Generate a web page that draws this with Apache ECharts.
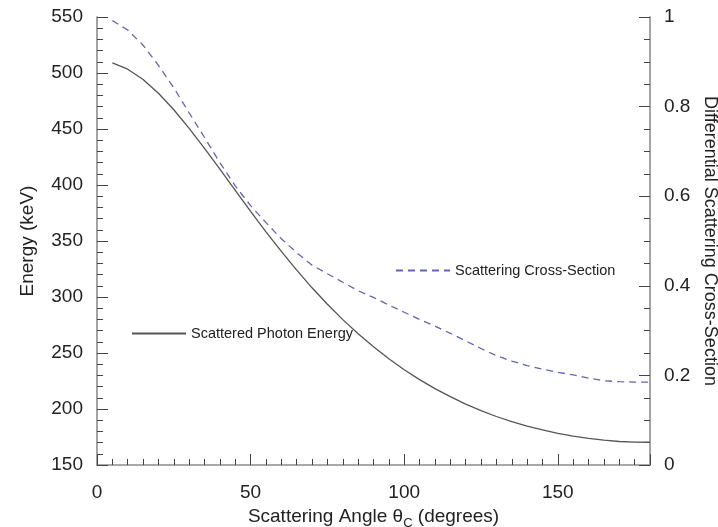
<!DOCTYPE html>
<html>
<head>
<meta charset="UTF-8"/>
<title>Compton scattering</title>
<script src="https://cdn.jsdelivr.net/npm/echarts@6/dist/echarts.min.js"></script>
<style>
html,body{margin:0;padding:0;background:#fff;}
#main{width:718px;height:527px;}
</style>
</head>
<body>
<div id="main"></div>
<script type="text/javascript">
// scattering angle in degrees
var angles = [5,10,15,20,25,30,35,40,45,50,55,60,65,70,75,80,85,90,
  95,100,105,110,115,120,125,130,135,140,145,150,155,160,165,170,175,180];
// scattered photon energy, keV (left axis)
var energy = [509.1,503.4,494.2,481.9,467.2,450.6,432.7,414.1,395.2,376.5,358.2,340.7,
  324.0,308.2,293.5,279.8,267.1,255.5,244.8,235.1,226.2,218.2,211.0,204.4,
  198.6,193.3,188.8,184.8,181.3,178.3,175.8,173.8,172.2,171.0,170.5,170.3];
// differential scattering cross-section, relative (right axis)
var crossSection = [0.992,0.971,0.937,0.892,0.842,0.786,0.731,0.675,0.623,0.579,0.541,0.505,
  0.474,0.446,0.427,0.408,0.389,0.374,0.357,0.341,0.325,0.310,0.294,0.277,
  0.260,0.244,0.232,0.222,0.214,0.207,0.201,0.194,0.188,0.186,0.185,0.185];
var energyTicks = [150,200,250,300,350,400,450,500,550];
var sectionTicks = [0,0.2,0.4,0.6,0.8,1];
var angleTicks = [0,50,100,150];

function pairs(xs, ys){
  var out = [];
  for(var i=0;i<xs.length;i++){ out.push([xs[i], ys[i]]); }
  return out;
}
function inList(list, v){
  for(var i=0;i<list.length;i++){ if(Math.abs(list[i]-v) < 1e-6) return true; }
  return false;
}

var labelFont = {fontFamily:'Liberation Sans, Arial, sans-serif', fontSize:19, color:'#222'};
var axisLine = {show:true, lineStyle:{color:'#8c8c8c', width:1.6}};
var noLine = {show:false};
var legendText = {fontFamily:'Liberation Sans, Arial, sans-serif', fontSize:14.5, color:'#222'};

var myChart = echarts.init(document.getElementById('main'));

var option = {
  backgroundColor:'#fff',
  animation:false,
  grid:{left:97, right:68, top:17, bottom:62, outerBoundsMode:'none', containLabel:false},
  legend:[
    {data:['Scattered Photon Energy'], left:131, top:326, padding:0, itemWidth:54, itemHeight:14, itemGap:0,
     itemStyle:{opacity:0}, textStyle:legendText},
    {data:['Scattering Cross-Section'], left:395, top:263, padding:0, itemWidth:54, itemHeight:14, itemGap:0,
     itemStyle:{opacity:0}, textStyle:legendText}
  ],
  xAxis:[
    { // minor ticks + labels
      type:'value', min:0, max:180, interval:5, position:'bottom',
      axisLine:axisLine,
      axisTick:{show:true, inside:true, length:6, lineStyle:{color:'#444'}},
      splitLine:{show:false},
      axisLabel:Object.assign({margin:18, showMaxLabel:false,
        formatter:function(v){ return inList(angleTicks, v) ? String(v) : ''; }}, labelFont),
      name:'Scattering Angle \u03b8{s|C} (degrees)',
      nameLocation:'middle', nameGap:37,
      nameTextStyle:{fontFamily:'Liberation Sans, Arial, sans-serif', fontSize:19, color:'#222',
        rich:{s:{fontSize:13, color:'#222', padding:[15,0,0,0]}}}
    },
    { // major ticks
      type:'value', min:0, max:180, interval:50, position:'bottom',
      axisLine:noLine, splitLine:{show:false}, axisLabel:{show:false},
      axisTick:{show:true, inside:true, length:11, lineStyle:{color:'#444'}}
    }
  ],
  yAxis:[
    { // left minor + labels
      type:'value', min:150, max:550, interval:10, position:'left',
      axisLine:axisLine, splitLine:{show:false},
      axisTick:{show:true, inside:true, length:6, lineStyle:{color:'#444'}},
      axisLabel:Object.assign({margin:14,
        formatter:function(v){ return inList(energyTicks, v) ? String(v) : ''; }}, labelFont),
      name:'Energy (keV)', nameLocation:'middle', nameGap:60, nameRotate:90,
      nameTextStyle:{fontFamily:'Liberation Sans, Arial, sans-serif', fontSize:19, color:'#222'}
    },
    { // left major
      type:'value', min:150, max:550, interval:50, position:'left',
      axisLine:noLine, splitLine:{show:false}, axisLabel:{show:false},
      axisTick:{show:true, inside:true, length:11, lineStyle:{color:'#444'}}
    },
    { // right minor + labels
      type:'value', min:0, max:1, interval:0.05, position:'right',
      axisLine:axisLine, splitLine:{show:false},
      axisTick:{show:true, inside:true, length:6, lineStyle:{color:'#444'}},
      axisLabel:Object.assign({margin:14,
        formatter:function(v){ return inList(sectionTicks, v) ? String(+v.toFixed(2)) : ''; }}, labelFont),
      name:'Differential Scattering Cross-Section', nameLocation:'middle', nameGap:47, nameRotate:-90,
      nameTextStyle:{fontFamily:'Liberation Sans, Arial, sans-serif', fontSize:18, color:'#222'}
    },
    { // right major
      type:'value', min:0, max:1, interval:0.2, position:'right',
      axisLine:noLine, splitLine:{show:false}, axisLabel:{show:false},
      axisTick:{show:true, inside:true, length:11, lineStyle:{color:'#444'}}
    }
  ],
  series:[
    {
      name:'Scattered Photon Energy', type:'line', xAxisIndex:0, yAxisIndex:0,
      symbol:'none', smooth:false,
      lineStyle:{color:'#555', width:1.3},
      itemStyle:{color:'#555'},
      data:pairs(angles, energy)
    },
    {
      name:'Scattering Cross-Section', type:'line', xAxisIndex:0, yAxisIndex:2,
      symbol:'none', smooth:false,
      lineStyle:{color:'#6464b4', width:1.3, type:[7,5]},
      itemStyle:{color:'#6464b4'},
      data:pairs(angles, crossSection)
    }
  ]
};

myChart.setOption(option);
</script>
</body>
</html>
